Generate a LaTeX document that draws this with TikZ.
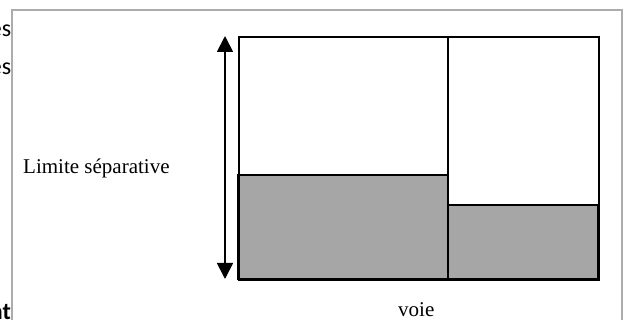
\documentclass[tikz,border=0pt]{standalone}
\usepackage{fontspec}
\setmainfont{Liberation Serif}
\newfontfamily\calib{Carlito}
\usetikzlibrary{arrows.meta}
\definecolor{framegray}{RGB}{172,172,172}
\definecolor{fillgray}{RGB}{166,166,166}
\tikzset{
  bgtext/.style={font=\calib\fontsize{24}{28}\selectfont, inner sep=0pt, anchor=base east, text=black},
  frame/.style={draw=framegray, line width=2pt, fill=white},
  block/.style={draw=black, line width=1.2pt, fill=fillgray},
  box/.style={draw=black, line width=2pt},
  label/.style={font=\fontsize{21}{25}\selectfont, inner sep=0pt, anchor=base west},
  limit/.style={line width=1.8pt, {Triangle[length=16pt,width=16pt]}-{Triangle[length=16pt,width=16pt]}, shorten <=0pt, shorten >=0pt}
}
\begin{document}
\begin{tikzpicture}[x=1pt,y=-1pt]
\useasboundingbox (0,0) rectangle (624,320);
% text of the page behind the text box
\node[bgtext] (t1) at (11.5,37) {des};
\node[bgtext] (t2) at (11.5,75) {les};
\node[bgtext, font=\calib\bfseries\fontsize{24}{28}\selectfont] (t3) at (11,320) {ant};
% the text box
\path[frame] (12,10) rectangle (622,340);
% buildings
\path[block] (238,175) rectangle (448,279);
\path[block] (448,205) rectangle (598,279);
\node[box, minimum width=360pt, minimum height=243pt, inner sep=0pt, anchor=north west] (outer) at (238,36) {};
\coordinate (dtop) at (448,36);
\coordinate (dbot) at (448,279);
\draw[line width=2.2pt] (dtop) -- (dbot);
% arrow
\coordinate (atop) at (225,36);
\coordinate (abot) at (225,279);
\draw[limit] (atop) -- (abot);
% labels
\node[label] (lim) at (23,173.5) {Limite séparative};
\node[label] (voie) at (398,317) {voie};
\end{tikzpicture}
\end{document}
